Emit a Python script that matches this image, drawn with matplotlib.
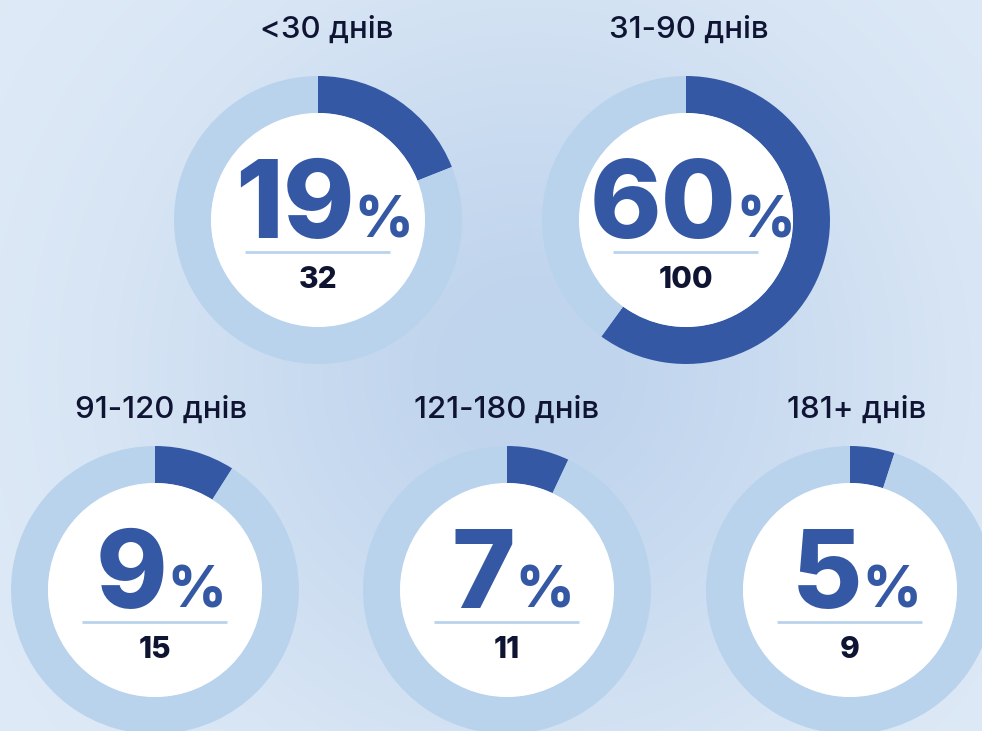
import numpy as np
import matplotlib.pyplot as plt
from matplotlib.patches import Circle

# data
labels = ["<30 днів", "31-90 днів", "91-120 днів", "121-180 днів", "181+ днів"]
shares = [19, 60, 9, 7, 5]
counts = [32, 100, 15, 11, 9]

# layout, pixel coords from top-left
W, H = 982, 731
centers = [(318, 220), (686, 220), (155, 590), (507, 590), (850, 590)]
title_pos = [(327, 30), (689, 30), (161, 410), (507, 410), (857, 410)]
R_OUT, R_IN = 144, 107

DARK = "#3558a5"
LIGHT = "#b9d3ec"
NAVY = "#0f1433"
FONT = ["Inter", "DejaVu Sans"]

fig = plt.figure(figsize=(W / 100, H / 100), dpi=100)
ax = fig.add_axes([0, 0, 1, 1])

# background gradient
yy, xx = np.mgrid[0:H, 0:W]
c1 = np.array([0xe0, 0xeb, 0xf7]) / 255
c2 = np.array([0xbf, 0xd4, 0xed]) / 255
d2 = ((xx - 530) ** 2 + (yy - 370) ** 2) / 380 ** 2
wgt = np.exp(-d2)[..., None]
bg = c1 * (1 - wgt) + c2 * wgt
ax.imshow(bg, extent=(0, W, 0, H), origin="upper", zorder=0, aspect="auto")

renderer = fig.canvas.get_renderer()

for lab, pct, cnt, (cx, cy), (tx, ty) in zip(labels, shares, counts, centers, title_pos):
    y = H - cy
    ax.pie([pct, 100 - pct], colors=[DARK, LIGHT], center=(cx, y), radius=R_OUT,
           startangle=90, counterclock=False,
           wedgeprops=dict(width=R_OUT - R_IN, linewidth=0))
    ax.add_patch(Circle((cx, y), R_IN, facecolor="white", edgecolor="none", zorder=3))

    ax.text(tx, H - ty, lab, ha="center", va="center", fontsize=22.5,
            family=FONT, weight="medium", color=NAVY, zorder=4)

    # big share number + small percent sign, centered as a group
    big = ax.text(0, 0, str(pct), fontsize=78, family=FONT, weight="heavy",
                  color=DARK, ha="left", va="baseline", zorder=4)
    sign = ax.text(0, 0, "%", fontsize=41, family=FONT, weight="heavy",
                   color=DARK, ha="left", va="baseline", zorder=4)
    wb = big.get_window_extent(renderer).width
    ws = sign.get_window_extent(renderer).width
    gap = 0
    x0 = cx + 6 - (wb + gap + ws) / 2
    big.set_position((x0, y - 18))
    sign.set_position((x0 + wb + gap, y - 18))

    ax.plot([cx - 73, cx + 72], [y - 32, y - 32], color=LIGHT, lw=2, zorder=4,
            solid_capstyle="butt")
    ax.text(cx, y - 60, str(cnt), ha="center", va="center", fontsize=21.5,
            family=FONT, weight="heavy", color=NAVY, zorder=4)

ax.set_xlim(0, W)
ax.set_ylim(0, H)
ax.set_aspect("equal")
ax.axis("off")

fig.savefig("out.png", dpi=100)
